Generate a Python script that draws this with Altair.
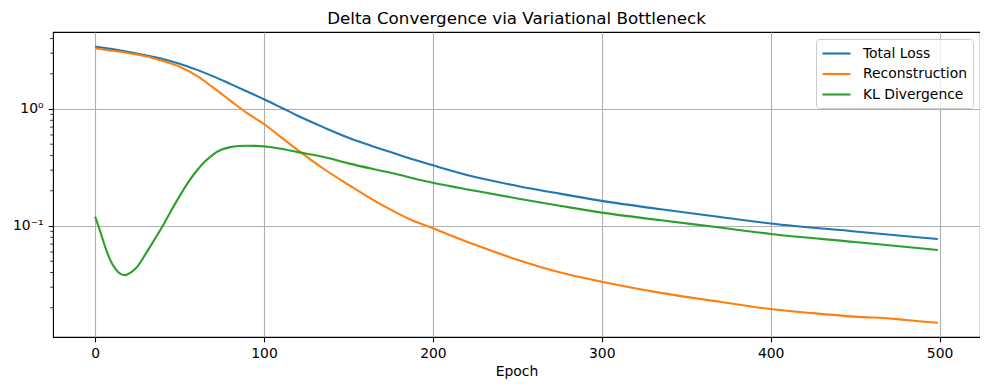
import altair as alt
import pandas as pd

# ---------------- data ----------------
chart_title = "Delta Convergence via Variational Bottleneck"
series_names = ["Total Loss", "Reconstruction", "KL Divergence"]
series_colors = ["#1f77b4", "#ff7f0e", "#2ca02c"]

epochs_total = [0, 10, 20, 30, 40, 50, 60, 70, 80, 90, 100, 110, 120, 135, 150, 160,
                175, 187, 200, 225, 250, 275, 300, 335, 370, 400, 450, 499]
total_loss = [3.42, 3.25, 3.07, 2.88, 2.68, 2.44, 2.17, 1.90, 1.64, 1.41, 1.21, 1.03,
              0.875, 0.70, 0.568, 0.505, 0.428, 0.375, 0.330, 0.262, 0.220, 0.189,
              0.164, 0.139, 0.1195, 0.105, 0.0898, 0.0773]

epochs_recon = [0, 10, 20, 30, 40, 50, 60, 70, 80, 90, 100, 110, 120, 135, 150, 160,
                175, 187, 200, 225, 250, 275, 300, 335, 370, 400, 425, 450, 475, 480, 499]
reconstruction = [3.30, 3.15, 3.00, 2.82, 2.57, 2.30, 1.93, 1.52, 1.18, 0.92, 0.744,
                  0.575, 0.445, 0.31, 0.225, 0.183, 0.138, 0.113, 0.0955, 0.069, 0.0515,
                  0.0402, 0.0334, 0.0268, 0.0225, 0.0195, 0.0180, 0.0168, 0.0160,
                  0.0157, 0.0149]

epochs_kl = [0, 3, 6, 9, 12, 15, 18, 21, 25, 30, 35, 40, 45, 50, 55, 60, 65, 70, 75,
             80, 85, 90, 95, 100, 110, 120, 135, 150, 175, 200, 225, 250, 275, 300,
             335, 370, 400, 450, 499]
kl_divergence = [0.120, 0.090, 0.066, 0.051, 0.043, 0.039, 0.038, 0.040, 0.045, 0.058,
                 0.076, 0.100, 0.135, 0.180, 0.235, 0.295, 0.355, 0.410, 0.450, 0.472,
                 0.482, 0.485, 0.484, 0.479, 0.458, 0.428, 0.390, 0.343, 0.285, 0.234,
                 0.200, 0.172, 0.149, 0.130, 0.112, 0.097, 0.0855, 0.073, 0.0624]

x_ticks = [0, 100, 200, 300, 400, 500]
y_major = [0.1, 1]
y_minor = [0.02, 0.03, 0.04, 0.05, 0.06, 0.07, 0.08, 0.09,
           0.2, 0.3, 0.4, 0.5, 0.6, 0.7, 0.8, 0.9, 2, 3, 4]
x_domain = [-24.95, 523.95]
y_domain = [0.01125, 4.55]

# ---------------- build table ----------------
rows = []
for name, xs, ys in zip(series_names,
                        [epochs_total, epochs_recon, epochs_kl],
                        [total_loss, reconstruction, kl_divergence]):
    for x, y in zip(xs, ys):
        rows.append({"Epoch": x, "Value": y, "Series": name})
df = pd.DataFrame(rows)
minor_df = pd.DataFrame({"Value": y_minor})
title_df = pd.DataFrame({"t": [chart_title]})

FONT = "DejaVu Sans"
W, H = 927, 305
xscale = alt.Scale(domain=x_domain, nice=False, zero=False)
yscale = alt.Scale(type="log", domain=y_domain, nice=False)

y_axis = alt.Axis(values=y_major, title=None, grid=True,
                  labelExpr="datum.value == 1 ? '10⁰' : (datum.value == 0.1 ? '10⁻¹' : '')",
                  tickSize=4.9, tickWidth=1.1, tickColor="black",
                  labelPadding=5, labelFontSize=13.9, labelColor="black", labelFont=FONT,
                  domain=False)
x_axis = alt.Axis(values=x_ticks, title="Epoch", grid=True, format="d",
                  tickSize=4.9, tickWidth=1.1, tickColor="black",
                  labelPadding=4.5, labelFontSize=13.9, labelColor="black", labelFont=FONT,
                  titleFontSize=13.9, titleFont=FONT, titleFontWeight="normal",
                  titleColor="black", titlePadding=4, domain=False)

lines = alt.Chart(df).mark_line(strokeWidth=2.1, interpolate="monotone").encode(
    x=alt.X("Epoch:Q", scale=xscale, axis=x_axis),
    y=alt.Y("Value:Q", scale=yscale, axis=y_axis),
    color=alt.Color("Series:N",
                    scale=alt.Scale(domain=series_names, range=series_colors),
                    legend=alt.Legend(title=None, orient="top-right", offset=7,
                                      symbolType="M-2,0H2", symbolSize=196,
                                      symbolStrokeWidth=2.1, symbolOffset=6,
                                      labelOffset=18,
                                      labelFontSize=13.9, labelFont=FONT, labelColor="black",
                                      rowPadding=4.5, padding=6,
                                      fillColor="rgba(255,255,255,0.8)",
                                      strokeColor="#cccccc", cornerRadius=3)),
)

minor_ticks = alt.Chart(minor_df).mark_rule(color="black", strokeWidth=0.8).encode(
    y=alt.Y("Value:Q", scale=yscale, axis=y_axis),
    x=alt.value(0),
    x2=alt.value(-2.8),
)

title_mark = alt.Chart(title_df).mark_text(
    font=FONT, fontSize=16.7, color="black", align="center", baseline="alphabetic"
).encode(text="t:N", x=alt.value(W / 2), y=alt.value(-8.3))

chart = alt.layer(lines, minor_ticks, title_mark).properties(
    width=W, height=H,
    autosize=alt.AutoSizeParams(type="none"),
    padding={"left": 45, "top": 24, "right": 0, "bottom": 45},
).configure_view(stroke="black", strokeWidth=1.1
).configure_axis(gridColor="#b0b0b0", gridWidth=1.1, gridOpacity=1)

chart.save("out.html", embed_options={"renderer": "svg", "actions": False})
